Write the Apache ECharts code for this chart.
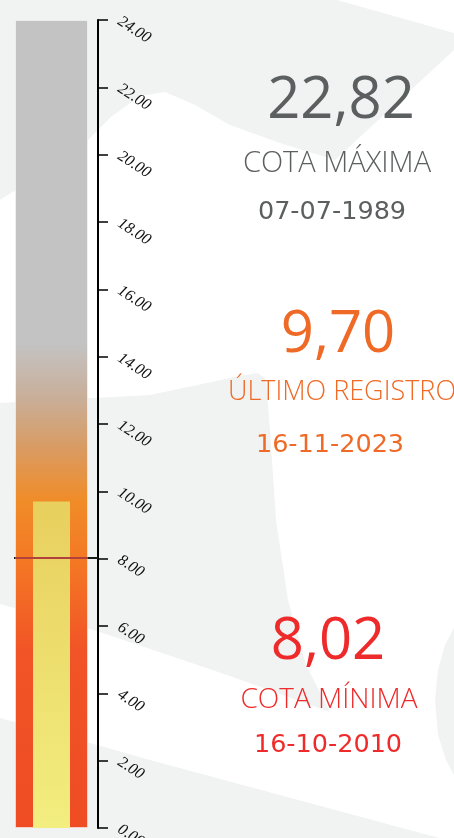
<!DOCTYPE html>
<html>
<head>
<meta charset="utf-8">
<script src="https://cdn.jsdelivr.net/npm/echarts@6/dist/echarts.min.js"></script>
<style>
html,body{margin:0;padding:0;background:#ffffff;}
#chart{width:454px;height:838px;}
</style>
</head>
<body>
<div id="chart"></div>
<script>
// ---- data ----
const categories = ['Nivel'];
const scaleMin = 0;
const scaleMax = 24;
const scaleInterval = 2;
const tubeValues = [24];          // full tube height (scale top)
const lastValues = [9.70];        // último registro
const minValues = [8.02];         // cota mínima
const maxValues = [22.82];        // cota máxima
const recordValues = [22.82, 9.70, 8.02];
const recordLabels = ['COTA MÁXIMA', 'ÚLTIMO REGISTRO', 'COTA MÍNIMA'];
const recordDates = ['07-07-1989', '16-11-2023', '16-10-2010'];

const fmt = v => v.toFixed(2).replace('.', ',');
const GREY_BG = '#f1f2f2';
const colors = ['#5b5f5f', '#ee6a26', '#ee2a2a'];

const bgShapes = [
  [[0,0],[337,0],[454,33],[454,50],[335,160],[280,143],[230,125],[195,105],[165,92],[140,96],[112,116],[88,140],[50,168],[0,200]],
  [[0,403],[150,395],[240,376],[258,373],[266,380],[270,430],[276,520],[288,600],[306,665],[330,712],[230,676],[100,632],[0,604]],
  [[0,718],[97,745],[150,760],[454,842],[454,838],[0,838]],
  [[454,628],[445,645],[438,670],[435,700],[438,735],[446,760],[454,775]]
];

const graphics = bgShapes.map(pts => ({
  type: 'polygon', z: -10, silent: true,
  shape: { points: pts },
  style: { fill: GREY_BG }
}));

const textPos = [
  { x: 341, vy: 101, lx: 337, ly: 164, dx: 332, dy: 212 },
  { x: 338, vy: 335, lx: 342, ly: 392, dx: 330, dy: 445 },
  { x: 328, vy: 642, lx: 329, ly: 700, dx: 328, dy: 745 }
];
const labelSizes = [29, 27, 28];
recordValues.forEach((v, i) => {
  const p = textPos[i];
  graphics.push({ type: 'text', x: p.x, y: p.vy, z: 10,
    style: { text: fmt(v), fill: colors[i], fontFamily: 'Open Sans', fontSize: 58, fontWeight: 500, align: 'center', verticalAlign: 'middle' } });
  graphics.push({ type: 'text', x: p.lx, y: p.ly, z: 10,
    style: { text: recordLabels[i], fill: colors[i], fontFamily: 'Open Sans', fontSize: labelSizes[i], fontWeight: 300, align: 'center', verticalAlign: 'middle' } });
  graphics.push({ type: 'text', x: p.dx, y: p.dy, z: 10,
    style: { text: recordDates[i], fill: colors[i], fontFamily: 'DejaVu Sans', fontSize: 25.5, fontWeight: 400, align: 'center', verticalAlign: 'middle' } });
});

const chart = echarts.init(document.getElementById('chart'), null, { renderer: 'canvas' });
chart.setOption({
  backgroundColor: '#ffffff',
  animation: false,
  graphic: graphics,
  grid: [
    { left: 15, width: 73, top: 20, bottom: 10, containLabel: false, outerBoundsMode: 'none' },
    { left: 14, width: 84, top: 20, bottom: 10, containLabel: false, outerBoundsMode: 'none' }
  ],
  xAxis: [
    { gridIndex: 0, type: 'category', data: categories, show: false },
    { gridIndex: 0, type: 'category', data: categories, show: false },
    { gridIndex: 1, type: 'category', data: categories, show: false }
  ],
  yAxis: [
    { gridIndex: 0, type: 'value', min: scaleMin, max: scaleMax, interval: scaleInterval, show: false },
    { gridIndex: 1, type: 'value', position: 'right', min: scaleMin, max: scaleMax, interval: scaleInterval,
      splitLine: { show: false },
      axisLine: { show: true, lineStyle: { color: '#000', width: 2 } },
      axisTick: { show: true, length: 10, lineStyle: { color: '#000', width: 1.5 } },
      axisLabel: { show: true, margin: 21, rotate: -33, color: '#111',
        fontFamily: 'Liberation Serif', fontStyle: 'italic', fontSize: 16,
        formatter: v => v.toFixed(2) } }
  ],
  series: [
    { type: 'line', xAxisIndex: 2, yAxisIndex: 1, data: minValues, showSymbol: false, z: 1,
      lineStyle: { opacity: 0 },
      markLine: { silent: true, symbol: 'none', label: { show: false },
        lineStyle: { color: '#1a1a1a', width: 2, type: 'solid' },
        data: [{ yAxis: minValues[0] }] } },
    { type: 'bar', xAxisIndex: 0, yAxisIndex: 0, data: tubeValues, barWidth: 73, z: 2,
      itemStyle: {
        borderColor: 'rgba(255,255,255,0.5)', borderWidth: 1,
        color: new echarts.graphic.LinearGradient(0, 0, 0, 1, [
          { offset: 0, color: '#c3c3c3' },
          { offset: 0.40, color: '#c3c3c3' },
          { offset: 0.47, color: '#c9ae97' },
          { offset: 0.53, color: '#d99b62' },
          { offset: 0.595, color: '#f08c28' },
          { offset: 0.67, color: '#f47824' },
          { offset: 0.78, color: '#f15426' },
          { offset: 1, color: '#ef4c24' }
        ])
      } },
    { type: 'bar', xAxisIndex: 1, yAxisIndex: 0, data: lastValues, barWidth: 37, z: 3,
      itemStyle: {
        color: new echarts.graphic.LinearGradient(0, 0, 0, 1, [
          { offset: 0, color: '#e8cf5e' },
          { offset: 1, color: '#f2ee7f' }
        ])
      },
      markLine: { silent: true, symbol: 'none', label: { show: false },
        lineStyle: { color: '#b3413b', width: 2, type: 'solid' },
        data: [{ yAxis: minValues[0] }] } }
  ]
});
</script>
</body>
</html>
